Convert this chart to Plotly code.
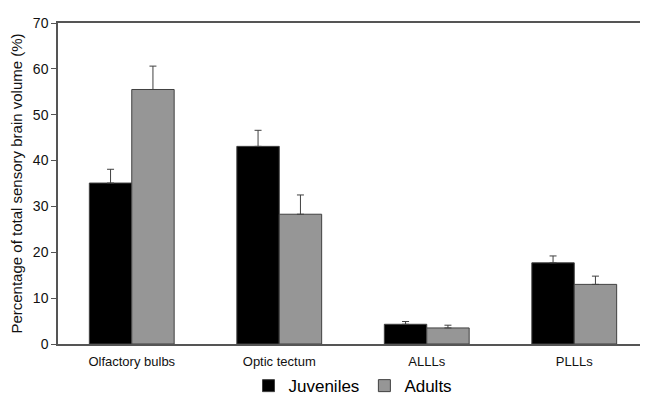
import plotly.graph_objects as go

categories = ["Olfactory bulbs", "Optic tectum", "ALLLs", "PLLLs"]
juveniles = [35.1, 43.1, 4.3, 17.7]
juveniles_err = [3.0, 3.5, 0.6, 1.5]
adults = [55.5, 28.3, 3.5, 13.0]
adults_err = [5.1, 4.2, 0.6, 1.8]
y_ticks = [0, 10, 20, 30, 40, 50, 60, 70]

fig = go.Figure()
fig.add_trace(go.Bar(
    x=categories, y=juveniles, name="Juveniles",
    marker=dict(color="#000000", line=dict(color="#404040", width=1)),
    error_y=dict(type="data", array=juveniles_err, arrayminus=[0]*4, symmetric=False,
                 color="#404040", thickness=1, width=3.5),
))
fig.add_trace(go.Bar(
    x=categories, y=adults, name="Adults",
    marker=dict(color="#969696", line=dict(color="#404040", width=1)),
    error_y=dict(type="data", array=adults_err, arrayminus=[0]*4, symmetric=False,
                 color="#404040", thickness=1, width=3.5),
))

fig.update_layout(
    width=640, height=392,
    paper_bgcolor="white", plot_bgcolor="white",
    barmode="group", bargap=0.425, bargroupgap=0,
    margin=dict(l=50, r=0, t=15, b=56, autoexpand=False),
    font=dict(family="Liberation Sans, Arial, sans-serif", color="#111111", size=13),
    showlegend=True,
    legend=dict(orientation="h", x=0.5, xanchor="center", y=-0.075, yanchor="top",
                bgcolor="rgba(0,0,0,0)",
                font=dict(size=17, color="#000000"), itemwidth=30,
                traceorder="normal", tracegroupgap=0),
)
fig.update_xaxes(
    showline=True, linecolor="#555555", linewidth=1.5, mirror=True,
    ticks="", showgrid=False, tickfont=dict(size=13, color="#111111"),
    ticklabelstandoff=5, automargin=False,
)
fig.update_yaxes(
    range=[0, 70], tickvals=y_ticks, showgrid=False, zeroline=False,
    showline=True, linecolor="#555555", linewidth=1.5,
    ticks="outside", ticklen=5, tickcolor="#555555",
    tickfont=dict(size=14, color="#111111"), automargin=False,
    title=dict(text="Percentage of total sensory brain volume (%)", font=dict(size=15, color="#111111"), standoff=10),
)

fig.write_html("out.html")
